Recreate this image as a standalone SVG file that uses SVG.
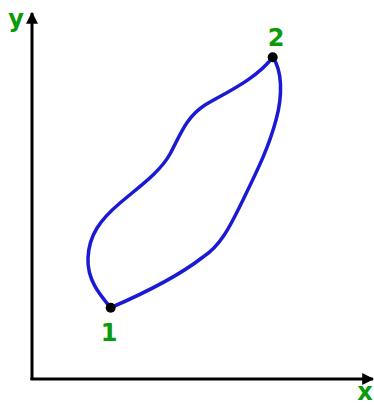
<svg xmlns="http://www.w3.org/2000/svg" width="374" height="405" viewBox="0 0 374 405">
<defs>
<style>
.axis{stroke:#000;stroke-width:3;fill:none}
.curve{stroke:#1a1ad6;stroke-width:3.5;fill:none;stroke-linecap:round}
.lbl{font-family:"DejaVu Sans",sans-serif;font-weight:bold;font-size:24px;fill:#0a9a0a;text-anchor:middle}
</style>
<marker id="ah" viewBox="0 0 10 10" refX="9" refY="5" markerWidth="4" markerHeight="4" orient="auto" markerUnits="strokeWidth">
<path d="M0,0 L10,5 L0,10 z" fill="#000"/>
</marker>
</defs>
<rect width="374" height="405" fill="#fff"/>
<g id="connectors">
<line class="axis" x1="32" y1="380" x2="32" y2="13" marker-end="url(#ah)"/>
<line class="axis" x1="30.5" y1="379" x2="373" y2="379" marker-end="url(#ah)"/>
<path class="curve" d="M110.7,307.7 C100,295 87,280 88,258 C89,235 100,220 120,203 C140,186 160,172 170,154 C180,136 185,118 205,105 C225,93 255,80 272.7,57.3"/>
<path class="curve" d="M272.7,57.3 C282,70 283,95 276,120 C268,150 255,175 243,200 C232,222 222,245 203,257 C180,275 140,295 110.7,307.7"/>
</g>
<g id="point1"><circle cx="110.7" cy="307.7" r="5" fill="#000"/><text class="lbl" x="109" y="341">1</text></g>
<g id="point2"><circle cx="272.7" cy="57.3" r="5" fill="#000"/><text class="lbl" x="276" y="46">2</text></g>
<g id="labelY"><text class="lbl" x="16" y="27">y</text></g>
<g id="labelX"><text class="lbl" x="365" y="400">x</text></g>
</svg>
